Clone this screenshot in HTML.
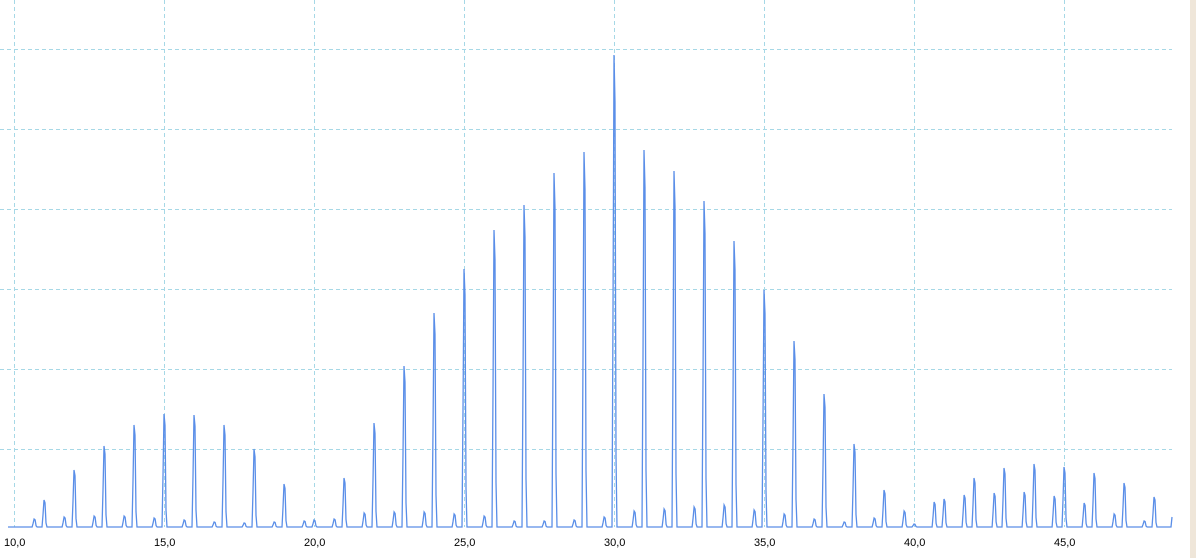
<!DOCTYPE html>
<html><head><meta charset="utf-8"><style>
html,body{margin:0;padding:0;background:#fff;width:1196px;height:558px;overflow:hidden}
svg{display:block}
text{font-family:"Liberation Sans",sans-serif;font-size:11px;fill:#000}
</style></head><body>
<svg id="chart" width="1196" height="558" viewBox="0 0 1196 558">
<rect x="1190" y="0" width="6" height="558" fill="#efe6d9"/>
<g id="grid"></g>
<g id="xaxis"></g>
<path id="series" fill="none" stroke="#5a8ee8" stroke-width="1.3"/>
</svg>
<script>
// Main peaks at integer positions
const mainPos = [11,12,13,14,15,16,17,18,19,20,21,22,23,24,25,26,27,28,29,30,31,32,33,34,35,36,37,38,39,40,41,42,43,44,45,46,47,48];
const mainVal = [27,57,81,102,113,112,102,78,43,7,49,104,161,214,258,297,322,354,375,472,377,356,326,286,237,186,133,83,37,3,28,49,59,63,60,54,44,30];
// Secondary peaks
const secPos = [10.67,11.67,12.67,13.67,14.67,15.67,16.67,17.67,18.67,19.67,20.67,21.67,22.67,23.67,24.67,25.67,26.67,27.67,28.67,29.67,30.67,31.67,32.67,33.67,34.67,35.67,36.67,37.67,38.67,39.67,40.67,41.67,42.67,43.67,44.67,45.67,46.67,47.67];
const secVal = [8,10,11,11,9,7,5,4,5,6,8,14,15,15,13,11,6,6,7,10,16,18,20,22,17,13,8,5,9,16,25,32,34,35,31,24,13,6];
const xTicks = [10,15,20,25,30,35,40,45];
const xTickLabels = ["10,0","15,0","20,0","25,0","30,0","35,0","40,0","45,0"];
const yGrid = [78,158,238,318,398,478];

const NS="http://www.w3.org/2000/svg";
const X0=14, XS=30, BASE=527, XMIN=9.8, RIGHT=1172;
const xs=v=>X0+(v-10)*XS;
const ys=v=>BASE-v;

const grid=document.getElementById('grid');
for(const t of xTicks){
  const l=document.createElementNS(NS,'line');
  
  
  l.setAttribute('x1',xs(t)+0.5);l.setAttribute('x2',xs(t)+0.5);l.setAttribute('y1',0);l.setAttribute('y2',BASE);
  l.setAttribute('stroke','#a6d8e6');l.setAttribute('stroke-dasharray','4,3');
  grid.appendChild(l);
}
for(const g of yGrid){
  const l=document.createElementNS(NS,'line');
  
  
  l.setAttribute('x1',0);l.setAttribute('x2',RIGHT);l.setAttribute('y1',ys(g)+0.5);l.setAttribute('y2',ys(g)+0.5);
  l.setAttribute('stroke','#a6d8e6');l.setAttribute('stroke-dasharray','4,3');
  grid.appendChild(l);
}
const ax=document.getElementById('xaxis');
xTicks.forEach((t,i)=>{
  const tx=document.createElementNS(NS,'text');
  
  
  tx.setAttribute('x',xs(t)-10);tx.setAttribute('y',546);
  tx.textContent=xTickLabels[i];
  ax.appendChild(tx);
});
const peaks=[];
mainPos.forEach((p,i)=>peaks.push([p,mainVal[i]]));
secPos.forEach((p,i)=>peaks.push([p,secVal[i]]));
peaks.sort((a,b)=>a[0]-b[0]);
let d='M'+xs(XMIN)+','+BASE;
for(const [p,v] of peaks){
  const x=xs(p);
  d+=' L'+(x-2)+','+BASE+' L'+(x-1)+','+ys(v*0.45)+' L'+x+','+ys(v)+' L'+(x+1)+','+ys(v*0.9)+' L'+(x+2)+','+ys(v*0.15)+' L'+(x+3)+','+BASE;
}
d+=' L'+(RIGHT-1)+','+BASE+' L'+RIGHT+','+(BASE-10);
document.getElementById('series').setAttribute('d',d);
</script>
</body></html>
